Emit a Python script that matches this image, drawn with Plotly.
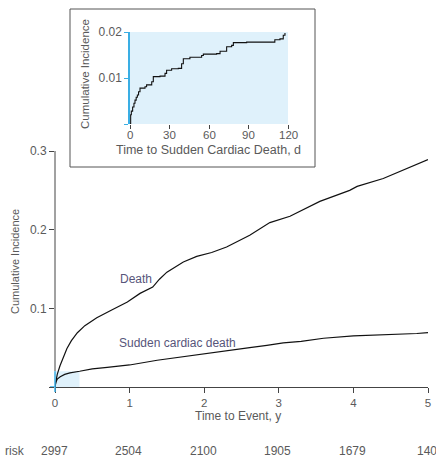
import plotly.graph_objects as go

# ---- data ----
death_t = [0, 0.01, 0.03, 0.067, 0.11, 0.16, 0.22, 0.3, 0.4, 0.56, 0.76, 0.97, 1.14, 1.31, 1.40,
           1.50, 1.72, 1.90, 2.1, 2.3, 2.61, 2.88, 3.15, 3.33, 3.55, 3.95, 4.05, 4.40, 4.66, 5.0]
death_v = [0, 0.008, 0.016, 0.027, 0.038, 0.049, 0.059, 0.069, 0.078, 0.088, 0.098, 0.108, 0.119,
           0.127, 0.137, 0.146, 0.159, 0.166, 0.171, 0.178, 0.193, 0.209, 0.217, 0.226, 0.236,
           0.250, 0.255, 0.265, 0.275, 0.289]

scd_t = [0, 0.003, 0.01, 0.03, 0.07, 0.13, 0.2, 0.33, 0.5, 0.7, 1.0, 1.37, 1.81, 2.3, 2.61,
         2.84, 3.06, 3.3, 3.6, 4.0, 4.4, 4.85, 5.0]
scd_v = [0, 0.003, 0.006, 0.010, 0.013, 0.016, 0.018, 0.020, 0.023, 0.025, 0.028, 0.034, 0.040,
         0.046, 0.050, 0.053, 0.056, 0.058, 0.062, 0.065, 0.066, 0.068, 0.069]

inset_days = [0, 0.5, 1, 2, 3, 3.8, 4.7, 5.6, 6.5, 7.6, 11.4, 12.6, 16.5, 17.7, 22.8, 26.6, 27.8,
              31.6, 36.7, 39.2, 40.5, 45.5, 54.4, 55.7, 65.8, 68.4, 73.4, 77.2, 78.5, 88.6,
              108.8, 110, 113.9, 116.4, 117.7]
inset_v = [0, 0.002, 0.0028, 0.0037, 0.0045, 0.0052, 0.0058, 0.0063, 0.007, 0.0078, 0.0081,
           0.0085, 0.0092, 0.0103, 0.0104, 0.011, 0.0117, 0.012, 0.0121, 0.0131, 0.0142, 0.0145,
           0.0149, 0.0152, 0.0153, 0.0158, 0.0168, 0.0171, 0.0177, 0.0178, 0.0178, 0.0183,
           0.0185, 0.0193, 0.0198]

x_ticks = [0, 1, 2, 3, 4, 5]
y_ticks = [0, 0.1, 0.2, 0.3]
y_ticktext = ["", "0.1", "0.2", "0.3"]
inset_x_ticks = [0, 30, 60, 90, 120]
inset_x_ticktext = ["0", "30", "60", "90", "120"]
inset_y_ticks = [0, 0.01, 0.02]
inset_y_ticktext = ["", "0.01", "0.02"]
risk_years = [0, 1, 2, 3, 4, 5]
risk_counts = ["2997", "2504", "2100", "1905", "1679", "1403"]

W, H = 436, 458
FONT = "Liberation Sans, Arial, sans-serif"
DARK = "#444444"
TICK = "#5a5a5a"
CYAN = "#3aaee4"
LIGHT = "#dff1fb"
LABEL = "#57557a"

def px(x):
    return x / W

def py(y):
    return (H - y) / H

fig = go.Figure()
fig.add_trace(go.Scatter(x=death_t, y=death_v, mode="lines",
                         line=dict(color="#111111", width=1.2), xaxis="x", yaxis="y"))
fig.add_trace(go.Scatter(x=scd_t, y=scd_v, mode="lines",
                         line=dict(color="#111111", width=1.2), xaxis="x", yaxis="y"))
fig.add_trace(go.Scatter(x=inset_days, y=inset_v, mode="lines", line_shape="hv",
                         line=dict(color="#111111", width=1.1), xaxis="x2", yaxis="y2"))

shapes = [
    dict(type="rect", xref="paper", yref="paper", x0=px(70), x1=px(315), y0=py(167), y1=py(9),
         fillcolor="white", line=dict(color="#555555", width=1), layer="below"),
    dict(type="rect", xref="x2", yref="y2", x0=0, x1=120, y0=0, y1=0.02,
         fillcolor=LIGHT, line=dict(width=0), layer="below"),
    dict(type="rect", xref="x", yref="y", x0=0, x1=120 / 365.25, y0=0, y1=0.02,
         fillcolor=LIGHT, line=dict(width=0), layer="below"),
    dict(type="line", xref="paper", yref="y", x0=px(55), x1=px(55), y0=0.02, y1=0.3,
         line=dict(color=DARK, width=1)),
    dict(type="line", xref="paper", yref="y", x0=px(55), x1=px(55), y0=0, y1=0.02,
         line=dict(color=CYAN, width=1.5)),
    dict(type="line", xref="paper", yref="y", x0=px(50), x1=px(55), y0=0, y1=0,
         line=dict(color=CYAN, width=1.5)),
    dict(type="line", xref="paper", yref="paper", x0=px(55), x1=px(55), y0=py(387), y1=py(392),
         line=dict(color=CYAN, width=1.5)),
]

ann = []
def note(text, x, y, size, color=TICK, angle=0, xanchor="center", xref="paper"):
    ann.append(dict(text=text, x=x, y=y, xref=xref, yref="paper", showarrow=False,
                    textangle=angle, xanchor=xanchor, yanchor="middle",
                    font=dict(family=FONT, size=size, color=color)))

note("Cumulative Incidence", px(15), py(262), 11, angle=-90)
note("Time to Event, y", px(238), py(416), 12)
note("Cumulative Incidence", px(85), py(74), 11.5, angle=-90)
note("Time to Sudden Cardiac Death, d", px(208), py(150), 12.5)
note("Death", px(136), py(279), 12, color=LABEL)
note("Sudden cardiac death", px(177), py(343), 12, color=LABEL)
note("risk", px(3), py(451), 12, xanchor="left")
for d, lab in zip(inset_x_ticks, inset_x_ticktext):
    ann.append(dict(text=lab, x=d, y=py(135), xref="x2", yref="paper", showarrow=False,
                    xanchor="center", yanchor="middle",
                    font=dict(family=FONT, size=11.5, color=TICK)))
for yr, cnt in zip(risk_years, risk_counts):
    ann.append(dict(text=cnt, x=yr, y=py(451), xref="x", yref="paper", showarrow=False,
                    xanchor="center", yanchor="middle", xshift=-1 if yr < 5 else 2,
                    font=dict(family=FONT, size=12, color=TICK)))

fig.update_layout(
    width=W, height=H, autosize=False,
    margin=dict(l=0, r=0, t=0, b=0, pad=0),
    paper_bgcolor="white", plot_bgcolor="rgba(0,0,0,0)",
    showlegend=False,
    font=dict(family=FONT, size=12, color=TICK),
    xaxis=dict(domain=[px(55), px(428)], range=[0, 5], tickvals=x_ticks, ticks="outside",
               ticklen=5, tickcolor=DARK, showline=True, linecolor=DARK, linewidth=1,
               showgrid=False, zeroline=False, anchor="y", automargin=False,
               tickfont=dict(family=FONT, size=11.5, color=TICK)),
    yaxis=dict(domain=[py(387), py(151)], range=[0, 0.3], tickvals=y_ticks,
               ticktext=y_ticktext, ticks="outside", ticklen=5, tickcolor=DARK,
               showline=False, showgrid=False, zeroline=False, anchor="x", automargin=False,
               tickfont=dict(family=FONT, size=12, color=TICK)),
    xaxis2=dict(domain=[px(130), px(288)], range=[0, 120], tickvals=inset_x_ticks,
                showticklabels=False, automargin=False,
                ticks="outside", ticklen=4, tickcolor=DARK, showline=False, showgrid=False,
                zeroline=False, anchor="y2"),
    yaxis2=dict(domain=[py(124), py(32)], range=[0, 0.02], tickvals=inset_y_ticks,
                ticktext=inset_y_ticktext, ticks="outside", ticklen=4, tickcolor=CYAN,
                showline=True, linecolor=CYAN, linewidth=1.5, showgrid=False,
                zeroline=False, anchor="x2", automargin=False,
                tickfont=dict(family=FONT, size=12, color=TICK)),
    shapes=shapes,
    annotations=ann,
)

fig.write_html("out.html", config={"displayModeBar": False},
               post_script="document.body.style.margin='0';document.body.style.overflow='hidden';")
